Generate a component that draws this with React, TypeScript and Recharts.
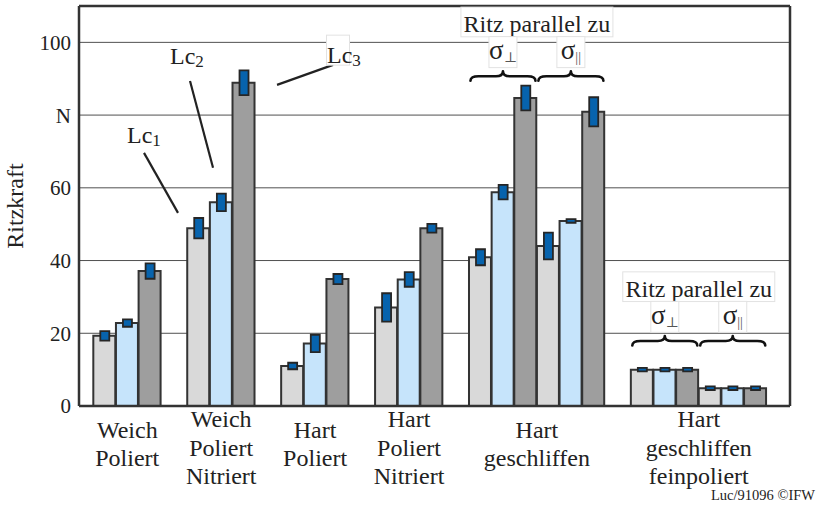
import React from 'react';
import {
  BarChart,
  Bar,
  XAxis,
  YAxis,
  CartesianGrid,
  Cell,
  ReferenceLine,
  ReferenceDot,
} from 'recharts';

// Category labels (one entry per line of the label)
const categories: string[][] = [
  ['Weich', 'Poliert'],
  ['Weich', 'Poliert', 'Nitriert'],
  ['Hart', 'Poliert'],
  ['Hart', 'Poliert', 'Nitriert'],
  ['Hart', 'geschliffen'],
  ['Hart', 'geschliffen', 'feinpoliert'],
];

// Each set holds three bars (Lc1, Lc2, Lc3); the last two categories
// hold two sets each (scratch direction perpendicular / parallel).
const setCategory = [0, 1, 2, 3, 4, 4, 5, 5];

const lc1 = [19.3, 48.9, 11.0, 27.1, 40.9, 44.0, 10.0, 4.9];
const lc1Err = [1.3, 2.8, 0.9, 3.9, 2.2, 3.7, 0.5, 0.5];
const lc2 = [22.8, 56.0, 17.2, 34.8, 58.8, 50.9, 10.0, 4.9];
const lc2Err = [1.0, 2.4, 2.4, 2.0, 2.0, 0.5, 0.5, 0.5];
const lc3 = [37.1, 88.9, 34.9, 48.9, 84.7, 80.9, 10.0, 4.9];
const lc3Err = [2.1, 3.4, 1.4, 1.2, 3.4, 4.0, 0.5, 0.5];

const yTicks = [0, 20, 40, 60, 80, 100];
const yTickLabels = ['0', '20', '40', '60', 'N', '100'];

const seriesFill = ['#d9d9d9', '#c6e4fb', '#9e9e9e'];
const errFill = '#0763ad';
const ink = '#222';
const frame = '#333';
const FONT = '"Liberation Serif", "DejaVu Serif", serif';

// x axis runs in bar-width units; categories are separated by a gap
const GAP = 1.148;
const X_MIN = -0.632;
const X_MAX = 24 + 5 * GAP + 1.029;

const values = [lc1, lc2, lc3];
const errs = [lc1Err, lc2Err, lc3Err];

type Row = { x: number; value: number; range: [number, number]; series: number };
const rows: Row[] = [];
setCategory.forEach((cat, s) => {
  for (let k = 0; k < 3; k++) {
    const v = values[k][s];
    const e = errs[k][s];
    rows.push({ x: s * 3 + k + 0.5 + cat * GAP, value: v, range: [v - e, v + e], series: k });
  }
});

const setCenter = (s: number) => s * 3 + setCategory[s] * GAP + 1.5;
const categoryCenters = categories.map((_, c) => {
  const sets = setCategory.map((cc, s) => (cc === c ? s : -1)).filter((s) => s >= 0);
  const start = sets[0] * 3 + c * GAP;
  return start + (sets.length * 3) / 2;
});

const CategoryTick = (props: any) => {
  const { x, y, index } = props;
  const lines = categories[index] || [];
  const first = y + (lines.length === 3 ? 13 : 23.5);
  return (
    <text x={x} y={first} textAnchor="middle" fontFamily={FONT} fontSize={24} fill={ink}>
      {lines.map((l, i) => (
        <tspan key={i} x={x} dy={i === 0 ? 0 : 28.7}>
          {l}
        </tspan>
      ))}
    </text>
  );
};

const LcLabel = ({ cx, cy, sub, boxed }: { cx: number; cy: number; sub: string; boxed?: boolean }) => (
  <g>
    {boxed && (
      <rect x={cx - 0.5} y={cy - 28.3} width={23} height={30} fill="#fff" stroke="#e2e2e2" strokeWidth={1} />
    )}
    <text x={cx} y={cy} fontFamily={FONT} fontSize={24} fill={ink}>
      Lc
      <tspan fontSize={17} dy={3}>
        {sub}
      </tspan>
    </text>
  </g>
);

const TitleLabel = ({ cx, cy }: { cx: number; cy: number }) => (
  <g>
    <rect x={cx - 76} y={cy - 24.7} width={152} height={29.7} fill="#fff" stroke="#e2e2e2" strokeWidth={1} />
    <text x={cx} y={cy} textAnchor="middle" fontFamily={FONT} fontSize={24} fill={ink}>
      Ritz parallel zu
    </text>
  </g>
);

const bracePath = (w: number) => {
  const hw = w / 2;
  return `M${-hw},9.5 Q${-hw},5 ${-hw + 8},5 L-7,5 Q0,5 0,0 Q0,5 7,5 L${hw - 8},5 Q${hw},5 ${hw},9.5`;
};

const SigmaBrace = ({ cx, cy, sub }: { cx: number; cy: number; sub: string }) => (
  <g>
    <rect x={cx - 14} y={cy + 27.5 - 22.7} width={28} height={31} fill="#fff" stroke="#e2e2e2" strokeWidth={1} />
    <text x={cx} y={cy + 27.5} textAnchor="middle" fontFamily={FONT} fill={ink}>
      <tspan fontSize={27}>σ</tspan>
      <tspan fontSize={14} dy={3} fill="#555">
        {sub}
      </tspan>
    </text>
    <path
      d={bracePath(65)}
      transform={`translate(${cx},${cy + 39.5})`}
      fill="none"
      stroke="#111"
      strokeWidth={2.6}
      strokeLinecap="round"
      strokeLinejoin="round"
    />
  </g>
);

const titleLevel = [102.9, 30.1]; // baseline of "Ritz parallel zu" above the two split categories
const splitSets = [
  [4, 5],
  [6, 7],
];
const splitCategories = [4, 5];
const sigmaSubs = ['⊥', '||'];

export default function App() {
  return (
    <div style={{ position: 'absolute', left: 0, top: 0, width: 818, height: 506, background: '#fff' }}>
      <BarChart
        width={818}
        height={506}
        data={rows}
        margin={{ top: 6, right: 28, bottom: 0, left: 0 }}
      >
        <CartesianGrid vertical={false} stroke="#505050" strokeWidth={1} />
        <XAxis
          type="number"
          dataKey="x"
          domain={[X_MIN, X_MAX]}
          ticks={categoryCenters}
          interval={0}
          tick={<CategoryTick />}
          tickLine={false}
          axisLine={{ stroke: frame, strokeWidth: 2.5 }}
          height={100}
          allowDataOverflow
        />
        <XAxis xAxisId="err" type="number" dataKey="x" domain={[X_MIN, X_MAX]} hide allowDataOverflow />
        <YAxis
          type="number"
          domain={[0, 110]}
          ticks={yTicks}
          interval={0}
          allowDataOverflow
          width={79}
          tickLine={false}
          axisLine={{ stroke: frame, strokeWidth: 2.5 }}
          tickFormatter={(v: number) => yTickLabels[yTicks.indexOf(v)] ?? String(v)}
          tick={{ fontFamily: FONT, fontSize: 21, fill: ink }}
          label={{
            content: (p: any) => {
              const vb = p.viewBox || { x: 0, y: 6 };
              const x = vb.x + 23;
              const y = vb.y + 200;
              return (
                <text
                  x={x}
                  y={y}
                  transform={`rotate(-90 ${x} ${y})`}
                  textAnchor="middle"
                  fontFamily={FONT}
                  fontSize={24}
                  fill={ink}
                >
                  Ritzkraft
                </text>
              );
            },
          }}
        />
        <ReferenceLine y={110} stroke={frame} strokeWidth={2.5} ifOverflow="visible" />
        <ReferenceLine x={X_MAX} stroke={frame} strokeWidth={2.5} ifOverflow="visible" />

        <Bar dataKey="value" barSize={22} stroke={frame} strokeWidth={2} isAnimationActive={false}>
          {rows.map((r, i) => (
            <Cell key={i} fill={seriesFill[r.series]} />
          ))}
        </Bar>
        <Bar
          dataKey="range"
          xAxisId="err"
          barSize={9}
          fill={errFill}
          stroke="#262626"
          strokeWidth={1.8}
          isAnimationActive={false}
        />

        {/* leader lines to the Lc labels */}
        <ReferenceLine
          segment={[{ x: 2.239, y: 69.6 }, { x: 3.741, y: 53.1 }]}
          stroke={ink}
          strokeWidth={2.2}
          ifOverflow="visible"
        />
        <ReferenceLine
          segment={[{ x: 4.271, y: 89.4 }, { x: 5.287, y: 65.5 }]}
          stroke={ink}
          strokeWidth={2.2}
          ifOverflow="visible"
        />
        <ReferenceLine
          segment={[{ x: 10.587, y: 93.8 }, { x: 8.114, y: 88.3 }]}
          stroke={ink}
          strokeWidth={2.2}
          ifOverflow="visible"
        />
        <ReferenceDot x={1.488} y={72.3} r={0} ifOverflow="visible" shape={(p: any) => <LcLabel cx={p.cx} cy={p.cy} sub="1" />} />
        <ReferenceDot x={3.387} y={94.05} r={0} ifOverflow="visible" shape={(p: any) => <LcLabel cx={p.cx} cy={p.cy} sub="2" />} />
        <ReferenceDot
          x={10.322}
          y={94.2}
          r={0}
          ifOverflow="visible"
          shape={(p: any) => <LcLabel cx={p.cx} cy={p.cy} sub="3" boxed />}
        />

        {/* "Ritz parallel zu" headers with braces over the split categories */}
        {splitCategories.map((c, j) => (
          <ReferenceDot
            key={`t${c}`}
            x={categoryCenters[c]}
            y={titleLevel[j]}
            r={0}
            ifOverflow="visible"
            shape={(p: any) => <TitleLabel cx={p.cx} cy={p.cy} />}
          />
        ))}
        {splitSets.map((sets, j) =>
          sets.map((s, k) => (
            <ReferenceDot
              key={`s${s}`}
              x={setCenter(s)}
              y={titleLevel[j]}
              r={0}
              ifOverflow="visible"
              shape={(p: any) => <SigmaBrace cx={p.cx} cy={p.cy} sub={sigmaSubs[k]} />}
            />
          ))
        )}
      </BarChart>
      <svg
        width={818}
        height={506}
        style={{ position: 'absolute', left: 0, top: 0, pointerEvents: 'none' }}
      >
        <text x={815} y={500} textAnchor="end" fontFamily={FONT} fontSize={14.5} fill={ink}>
          Luc/91096 ©IFW
        </text>
      </svg>
    </div>
  );
}
